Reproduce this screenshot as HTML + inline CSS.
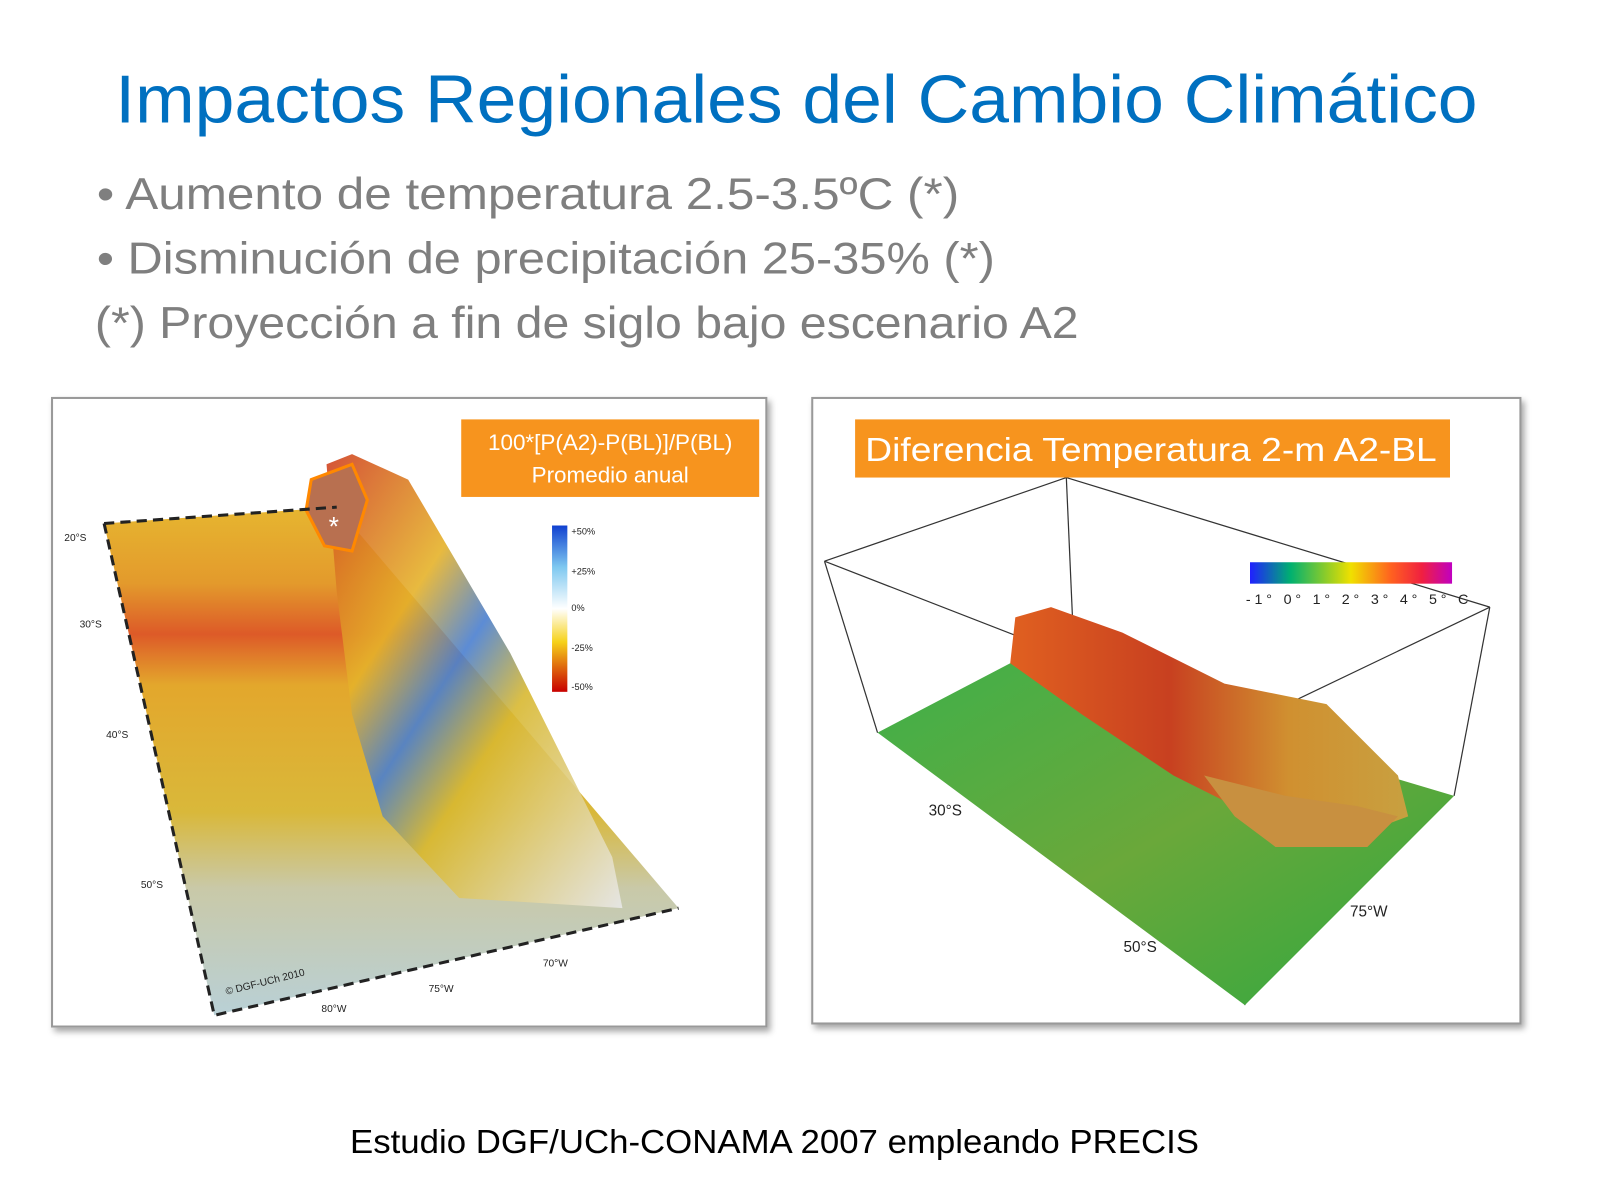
<!DOCTYPE html>
<html><head><meta charset="utf-8"><style>
html,body{margin:0;padding:0;background:#fff;width:1600px;height:1200px;overflow:hidden}
</style></head><body>
<svg width="1600" height="1200" viewBox="0 0 1568 1176" xmlns="http://www.w3.org/2000/svg" font-family="Liberation Sans, DejaVu Sans, sans-serif">
<defs>
<linearGradient id="ocean" x1="0" y1="0" x2="0" y2="1">
<stop offset="0" stop-color="#e6b630"/><stop offset="0.15" stop-color="#e39a2c"/><stop offset="0.25" stop-color="#dd5a28"/><stop offset="0.35" stop-color="#e3a72c"/><stop offset="0.6" stop-color="#d9b83a"/><stop offset="0.75" stop-color="#c9c9a8"/><stop offset="1" stop-color="#b9d0d6"/>
</linearGradient>
<linearGradient id="land" x1="0" y1="0" x2="1" y2="1">
<stop offset="0" stop-color="#d04020"/><stop offset="0.3" stop-color="#e5b22a"/><stop offset="0.45" stop-color="#4a7fd0"/><stop offset="0.6" stop-color="#d8b830"/><stop offset="1" stop-color="#e8e8e8"/>
</linearGradient>
<linearGradient id="cb1" x1="0" y1="0" x2="0" y2="1">
<stop offset="0" stop-color="#1040d0"/><stop offset="0.25" stop-color="#7ec8f0"/><stop offset="0.5" stop-color="#ffffff"/><stop offset="0.7" stop-color="#f6d21a"/><stop offset="1" stop-color="#c80000"/>
</linearGradient>
<linearGradient id="cb2" x1="0" y1="0" x2="1" y2="0">
<stop offset="0" stop-color="#2020ff"/><stop offset="0.2" stop-color="#00b070"/><stop offset="0.4" stop-color="#a0d020"/><stop offset="0.5" stop-color="#f0e000"/><stop offset="0.7" stop-color="#ff6020"/><stop offset="0.85" stop-color="#f02040"/><stop offset="1" stop-color="#c000c0"/>
</linearGradient>
<linearGradient id="green" x1="0" y1="0" x2="1" y2="1">
<stop offset="0" stop-color="#3fb04a"/><stop offset="0.5" stop-color="#6aa83a"/><stop offset="1" stop-color="#2fa840"/>
</linearGradient>
<linearGradient id="ridge" x1="0" y1="0" x2="1" y2="0">
<stop offset="0" stop-color="#e06020"/><stop offset="0.4" stop-color="#c84020"/><stop offset="0.7" stop-color="#d09030"/><stop offset="1" stop-color="#c8a040"/>
</linearGradient>
<filter id="sh"><feDropShadow dx="3" dy="4" stdDeviation="3" flood-opacity="0.35"/></filter>
</defs>

<text x="113" y="120" font-size="66" fill="#0070C0" textLength="1335" lengthAdjust="spacingAndGlyphs">Impactos Regionales del Cambio Climático</text>
<g fill="#7f7f7f" font-size="44">
<text x="95" y="205" textLength="845" lengthAdjust="spacingAndGlyphs">• Aumento de temperatura 2.5-3.5ºC (*)</text>
<text x="95" y="268" textLength="880" lengthAdjust="spacingAndGlyphs">• Disminución de precipitación 25-35% (*)</text>
<text x="93" y="331" textLength="964" lengthAdjust="spacingAndGlyphs">(*) Proyección a fin de siglo bajo escenario A2</text>
</g>

<!-- left panel -->
<rect x="51" y="390" width="700" height="616" fill="#fff" stroke="#999" stroke-width="2" filter="url(#sh)"/>
<polygon points="102,513 330,497 665,890 210,995" fill="url(#ocean)"/>
<polygon points="320,455 345,445 400,470 500,640 600,840 610,890 450,880 375,800 345,700 330,580" fill="url(#land)" opacity="0.9"/>
<polygon points="305,470 345,455 360,490 345,540 318,535 300,500" fill="#b87050" stroke="#ff8800" stroke-width="3"/>
<text x="322" y="525" font-size="26" fill="#fff">*</text>
<polyline points="102,513 330,497" fill="none" stroke="#222" stroke-width="3" stroke-dasharray="10,6"/>
<polyline points="102,513 210,995 665,890" fill="none" stroke="#222" stroke-width="3" stroke-dasharray="10,6"/>
<g font-size="10" fill="#222">
<text x="63" y="530">20°S</text><text x="78" y="615">30°S</text><text x="104" y="723">40°S</text><text x="138" y="870">50°S</text>
<text x="315" y="992">80°W</text><text x="420" y="972">75°W</text><text x="532" y="947">70°W</text>
<text x="222" y="975" transform="rotate(-14 222 975)">© DGF-UCh 2010</text>
</g>
<rect x="541" y="515" width="15" height="163" fill="url(#cb1)"/>
<g font-size="9" fill="#222"><text x="560" y="524">+50%</text><text x="560" y="563">+25%</text><text x="560" y="599">0%</text><text x="560" y="638">-25%</text><text x="560" y="676">-50%</text></g>
<rect x="452" y="411" width="292" height="76" fill="#F7941E"/>
<text x="598" y="441" font-size="22" fill="#fff" text-anchor="middle">100*[P(A2)-P(BL)]/P(BL)</text>
<text x="598" y="473" font-size="22" fill="#fff" text-anchor="middle">Promedio anual</text>

<!-- right panel -->
<rect x="796" y="390" width="694" height="613" fill="#fff" stroke="#999" stroke-width="2" filter="url(#sh)"/>
<g stroke="#333" stroke-width="1.2" fill="none">
<line x1="808" y1="550" x2="1045" y2="468"/><line x1="1045" y1="468" x2="1460" y2="595"/>
<line x1="808" y1="550" x2="1220" y2="710"/><line x1="1220" y1="710" x2="1460" y2="595"/>
<line x1="808" y1="550" x2="860" y2="718"/><line x1="1045" y1="468" x2="1053" y2="650"/>
<line x1="1460" y1="595" x2="1425" y2="780"/><line x1="1220" y1="710" x2="1220" y2="985"/>
</g>
<polygon points="860,718 990,650 1425,780 1220,985" fill="url(#green)"/>
<polygon points="990,650 995,605 1030,595 1100,620 1200,670 1300,690 1370,760 1380,800 1300,830 1230,800 1150,760 1060,700" fill="url(#ridge)"/>
<polygon points="1180,760 1260,780 1330,790 1370,800 1340,830 1250,830 1210,800" fill="#c89040"/>
<rect x="1225" y="551" width="198" height="21" fill="url(#cb2)"/>
<text x="1221" y="592" font-size="14" fill="#222" textLength="218" lengthAdjust="spacing">-1°  0°  1°  2°  3°  4°  5° C</text>
<g font-size="15" fill="#222"><text x="910" y="799">30°S</text><text x="1101" y="933">50°S</text><text x="1323" y="898">75°W</text></g>
<rect x="838" y="411" width="583" height="57" fill="#F7941E"/>
<text x="848" y="452" font-size="33" fill="#fff" textLength="560" lengthAdjust="spacingAndGlyphs">Diferencia Temperatura 2-m A2-BL</text>

<text x="343" y="1130" font-size="33" fill="#000" textLength="832" lengthAdjust="spacingAndGlyphs">Estudio DGF/UCh-CONAMA 2007 empleando PRECIS</text>
</svg>
</body></html>
